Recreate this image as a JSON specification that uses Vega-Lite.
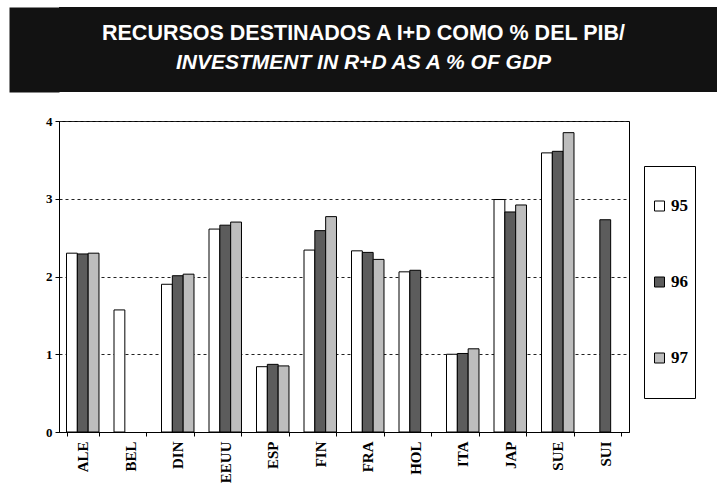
{
  "$schema": "https://vega.github.io/schema/vega-lite/v6.json",
  "background": "white",
  "padding": {"left": 8, "top": 7, "right": 0, "bottom": 0},
  "columns": 1,
  "spacing": 22,
  "bounds": "full",
  "concat": [
    {
      "width": 659,
      "height": 85,
      "view": {"fill": "#121212", "stroke": null},
      "data": {"values": [
        {"line": 1, "text": "RECURSOS DESTINADOS A I+D COMO % DEL PIB/"},
        {"line": 2, "text": "INVESTMENT IN R+D AS A % OF GDP"}
      ]},
      "encoding": {
        "y": {
          "field": "line", "type": "ordinal",
          "scale": {"type": "point", "padding": 1.135},
          "axis": {"title": null, "labels": false, "ticks": false, "grid": false, "domain": true, "domainColor": "#121212", "domainWidth": 50, "offset": 25, "minExtent": 0}
        },
        "text": {"field": "text"}
      },
      "layer": [
        {
          "transform": [{"filter": "datum.line == 1"}],
          "mark": {"type": "text", "font": "Liberation Sans", "fontWeight": "bold", "fontSize": 21.5, "color": "white", "baseline": "middle", "align": "center", "dx": -25, "dy": -1}
        },
        {
          "transform": [{"filter": "datum.line == 2"}],
          "mark": {"type": "text", "font": "Liberation Sans", "fontWeight": "bold", "fontStyle": "italic", "fontSize": 21, "color": "white", "baseline": "middle", "align": "center", "dx": -25, "dy": -1}
        }
      ]
    },
    {
      "width": 570,
      "height": 311,
      "view": {"stroke": "black", "strokeWidth": 1},
      "data": {"values": [
        {"pais": "ALE", "anio": "95", "valor": 2.30},
        {"pais": "ALE", "anio": "96", "valor": 2.29},
        {"pais": "ALE", "anio": "97", "valor": 2.30},
        {"pais": "BEL", "anio": "95", "valor": 1.57},
        {"pais": "DIN", "anio": "95", "valor": 1.90},
        {"pais": "DIN", "anio": "96", "valor": 2.01},
        {"pais": "DIN", "anio": "97", "valor": 2.03},
        {"pais": "EEUU", "anio": "95", "valor": 2.61},
        {"pais": "EEUU", "anio": "96", "valor": 2.66},
        {"pais": "EEUU", "anio": "97", "valor": 2.70},
        {"pais": "ESP", "anio": "95", "valor": 0.84},
        {"pais": "ESP", "anio": "96", "valor": 0.87},
        {"pais": "ESP", "anio": "97", "valor": 0.85},
        {"pais": "FIN", "anio": "95", "valor": 2.34},
        {"pais": "FIN", "anio": "96", "valor": 2.59},
        {"pais": "FIN", "anio": "97", "valor": 2.77},
        {"pais": "FRA", "anio": "95", "valor": 2.33},
        {"pais": "FRA", "anio": "96", "valor": 2.31},
        {"pais": "FRA", "anio": "97", "valor": 2.22},
        {"pais": "HOL", "anio": "95", "valor": 2.06},
        {"pais": "HOL", "anio": "96", "valor": 2.08},
        {"pais": "ITA", "anio": "95", "valor": 1.00},
        {"pais": "ITA", "anio": "96", "valor": 1.01},
        {"pais": "ITA", "anio": "97", "valor": 1.07},
        {"pais": "JAP", "anio": "95", "valor": 2.99},
        {"pais": "JAP", "anio": "96", "valor": 2.83},
        {"pais": "JAP", "anio": "97", "valor": 2.92},
        {"pais": "SUE", "anio": "95", "valor": 3.59},
        {"pais": "SUE", "anio": "96", "valor": 3.61},
        {"pais": "SUE", "anio": "97", "valor": 3.85},
        {"pais": "SUI", "anio": "96", "valor": 2.73}
      ]},
      "mark": {"type": "bar", "stroke": "black", "strokeWidth": 1},
      "encoding": {
        "x": {
          "field": "pais", "type": "nominal", "sort": null,
          "scale": {"paddingInner": 0.316, "paddingOuter": 0.158},
          "axis": {
            "title": null, "labelAngle": -90, "labelAlign": "right", "labelBaseline": "middle",
            "labelFont": "Liberation Serif", "labelFontWeight": "bold", "labelFontSize": 15, "labelColor": "black",
            "tickBand": "extent", "tickSize": 4, "tickColor": "black", "domainColor": "black",
            "labelPadding": 5, "grid": false
          }
        },
        "xOffset": {"field": "anio", "type": "nominal", "scale": {"paddingInner": 0, "paddingOuter": 0}},
        "y": {
          "field": "valor", "type": "quantitative",
          "scale": {"domain": [0, 4], "nice": false},
          "axis": {
            "title": null, "values": [0, 1, 2, 3, 4], "format": "d",
            "labelFont": "Liberation Serif", "labelFontWeight": "bold", "labelFontSize": 13, "labelColor": "black",
            "tickSize": 4, "tickColor": "black", "domainColor": "black", "labelPadding": 3,
            "grid": true, "gridColor": "#222", "gridDash": [3, 3], "gridWidth": 1,
            "minExtent": 50
          }
        },
        "fill": {
          "field": "anio", "type": "nominal",
          "scale": {"domain": ["95", "96", "97"], "range": ["#ffffff", "#5c5c5c", "#bdbdbd"]},
          "legend": {
            "title": null, "orient": "none", "legendX": 585, "legendY": 159,
            "strokeColor": "black", "padding": 7, "clipHeight": 66, "rowPadding": 10,
            "symbolType": "square", "symbolSize": 100, "symbolStrokeColor": "black", "symbolStrokeWidth": 1,
            "labelFont": "Liberation Serif", "labelFontWeight": "bold", "labelFontSize": 17, "labelColor": "black",
            "labelOffset": 3
          }
        }
      }
    }
  ]
}
